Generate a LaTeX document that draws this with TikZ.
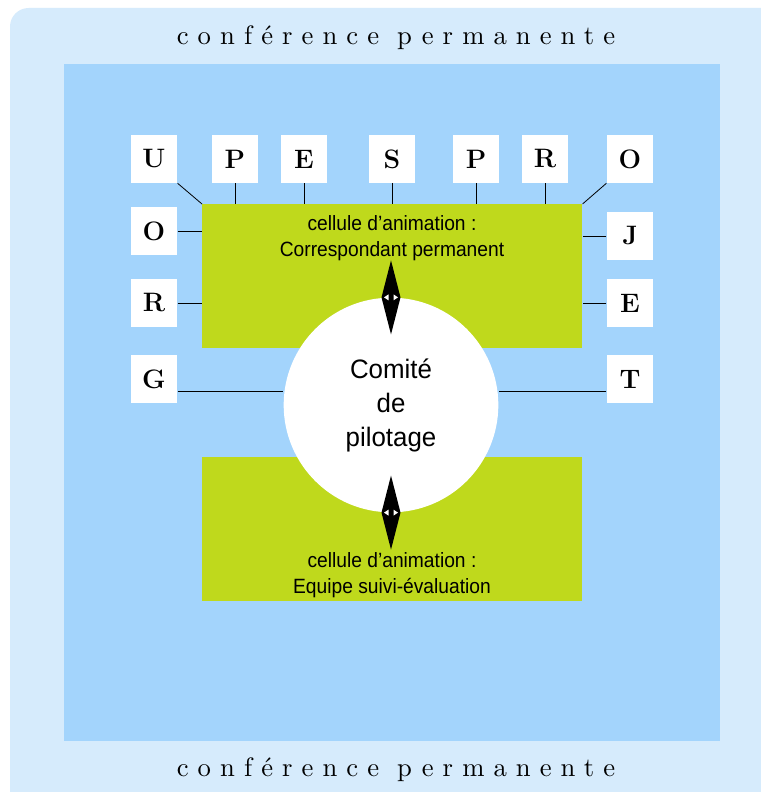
\documentclass[tikz,border=0pt]{standalone}
\usepackage{fontspec}
\usetikzlibrary{calc}
\newfontfamily\condfont{Liberation Sans}[FakeStretch=0.93]
\newfontfamily\comitefont{Liberation Sans}[FakeStretch=0.97]
\newfontfamily\spacedfont{lmroman10-regular.otf}[LetterSpace=34]
\definecolor{paleblue}{HTML}{D6EBFC}
\definecolor{skyblue}{HTML}{A3D4FC}
\definecolor{lime}{HTML}{BFD91C}
\tikzset{
  letterbox/.style={fill=white, minimum width=35pt, minimum height=36pt, inner sep=0pt,
    font=\fontsize{20}{20}\selectfont\bfseries},
  cellbox/.style={fill=lime, minimum width=285pt, minimum height=108pt, inner sep=0pt},
  celltext/.style={align=center, font=\condfont\fontsize{15.5}{19}\selectfont},
  confname/.style={font=\spacedfont\fontsize{20}{20}\selectfont},
  link/.style={draw=black, line width=0.6pt},
  kite/.style={fill=black}
}
\begin{document}
\begin{tikzpicture}[x=0.75pt, y=-0.75pt]
    \useasboundingbox (0,0) rectangle (760,792);
    % frames
    \fill[white] (0,0) rectangle (760,792);
    \fill[paleblue, rounded corners=14pt] (10,8) rectangle (790,820);
    \fill[skyblue] (64,64) rectangle (720,741);
    \node[confname] (conftop) at (396,38) {conférence permanente};
    \node[confname] (confbot) at (396,770) {conférence permanente};

    % cells and committee
    \node[cellbox, anchor=north west] (cellA) at (202,204) {};
    \node[celltext, anchor=north] (labelA) at (392,211) {cellule d’animation :\\ Correspondant permanent};
    \node[cellbox, anchor=north west] (cellB) at (202,457) {};
    \node[celltext, anchor=south] (labelB) at (392,602) {cellule d’animation :\\ Equipe suivi-évaluation};
    \node[circle, fill=white, minimum size=161pt, inner sep=0pt, align=center,
      font=\comitefont\fontsize{20}{25.5}\selectfont] (comite) at (391,405) {Comité\\ de\\ pilotage};

    % letters
    \node[letterbox] (u) at (154,159) {U};
    \node[letterbox] (p) at (235,159) {P};
    \node[letterbox] (e) at (304,159) {E};
    \node[letterbox] (s) at (392,159) {S};
    \node[letterbox] (p2) at (476,159) {P};
    \node[letterbox] (r) at (545,159) {R};
    \node[letterbox] (o) at (630,159) {O};
    \node[letterbox] (o2) at (154,231) {O};
    \node[letterbox] (r2) at (154,303) {R};
    \node[letterbox] (g) at (154,379) {G};
    \node[letterbox] (j) at (630,236) {J};
    \node[letterbox] (e2) at (630,303) {E};
    \node[letterbox] (t) at (630,379) {T};

    % links
    \draw[link] (u.south east) -- (cellA.north west);
    \draw[link] (o.south west) -- (cellA.north east);
    \foreach \n in {p,e,s,p2,r}
      \draw[link] (\n.south) -- (\n.south |- cellA.north);
    \foreach \n in {o2,r2}
      \draw[link] (\n.east) -- (\n.east -| cellA.west);
    \foreach \n in {j,e2}
      \draw[link] (\n.west) -- (\n.west -| cellA.east);
    \draw[link] ([yshift=-9pt]g.east) -- ([yshift=-9pt]g.east -| comite.west);
    \draw[link] ([yshift=-9pt]t.west) -- ([yshift=-9pt]t.west -| comite.east);

    % double arrows
    \foreach \c in {comite.north, comite.south}{
      \fill[kite] ($(\c)+(0,-37)$) -- ($(\c)+(9.5,0)$) -- ($(\c)+(0,37)$) -- ($(\c)+(-9.5,0)$) -- cycle;
      \fill[white] ($(\c)+(-7,0)$) -- ($(\c)+(-2.5,-3)$) -- ($(\c)+(-2.5,3)$) -- cycle;
      \fill[white] ($(\c)+(7,0)$) -- ($(\c)+(2.5,-3)$) -- ($(\c)+(2.5,3)$) -- cycle;
    }
\end{tikzpicture}
\end{document}
